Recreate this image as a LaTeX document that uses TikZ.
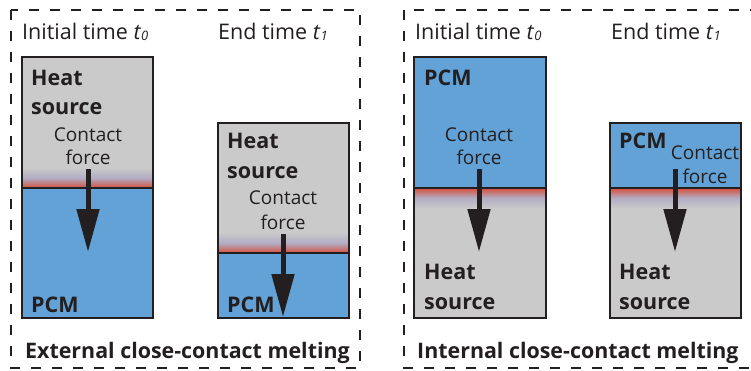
\documentclass[tikz,border=0pt]{standalone}
\usepackage{fontspec}
\setmainfont{Open Sans}
\usetikzlibrary{arrows.meta}
\definecolor{hsgray}{RGB}{201,202,201}
\definecolor{pcmblue}{RGB}{98,162,214}
\definecolor{hotred}{RGB}{213,80,60}
\definecolor{midlav}{RGB}{178,172,196}
\definecolor{edge}{RGB}{35,31,32}
\begin{document}
\begin{tikzpicture}[x=1pt,y=-1pt,
  txt/.style={inner sep=0pt,anchor=base west,text=edge},
  ttl/.style={txt,font=\fontsize{21.5}{24}\selectfont},
  lbl/.style={txt,font=\fontsize{21.5}{29}\selectfont\bfseries},
  cf/.style={inner sep=0pt,anchor=base,text=edge,font=\fontsize{19}{23}\selectfont},
  big/.style={txt,font=\fontsize{21.4}{24}\selectfont\bfseries},
  frame/.style={draw=edge,line width=1.8pt,dash pattern=on 10pt off 11pt},
  boxline/.style={draw=edge,line width=2pt},
  force/.style={edge,line width=5pt,-{Triangle[width=22pt,length=43pt]}}
]
\useasboundingbox (0,0) rectangle (751,370);
% dashed frames
\draw[frame] (11,10) rectangle (360,368);
\draw[frame] (404,10) rectangle (770,368);

% titles
\node[ttl] (t1) at (22,39) {Initial time \textit{t}\raisebox{-0.15ex}{\fontsize{13}{13}\selectfont\textit{0}}};
\node[ttl] (t2) at (218,39) {End time \textit{t}\raisebox{-0.15ex}{\fontsize{13}{13}\selectfont\textit{1}}};
\node[ttl] (t3) at (415,39) {Initial time \textit{t}\raisebox{-0.15ex}{\fontsize{13}{13}\selectfont\textit{0}}};
\node[ttl] (t4) at (611,39) {End time \textit{t}\raisebox{-0.15ex}{\fontsize{13}{13}\selectfont\textit{1}}};

% ---- box 1: external, initial
\fill[hsgray] (22,57) rectangle (153,188);
\fill[pcmblue] (22,188) rectangle (153,318);
\shade[top color=hsgray,bottom color=hotred,middle color=midlav] (22,168) rectangle (153,188);
\draw[boxline] (22,188) -- (153,188);
\draw[boxline] (22,57) rectangle (153,318);
% ---- box 2: external, end
\fill[hsgray] (218,123) rectangle (349,253);
\fill[pcmblue] (218,253) rectangle (349,318);
\shade[top color=hsgray,bottom color=hotred,middle color=midlav] (218,233) rectangle (349,253);
\draw[boxline] (218,253) -- (349,253);
\draw[boxline] (218,123) rectangle (349,318);
% ---- box 3: internal, initial
\fill[pcmblue] (414,57) rectangle (546,188);
\fill[hsgray] (414,188) rectangle (546,318);
\shade[top color=hotred,bottom color=hsgray,middle color=midlav] (414,188) rectangle (546,208);
\draw[boxline] (414,188) -- (546,188);
\draw[boxline] (414,57) rectangle (546,318);
% ---- box 4: internal, end
\fill[pcmblue] (610,123) rectangle (741,188);
\fill[hsgray] (610,188) rectangle (741,318);
\shade[top color=hotred,bottom color=hsgray,middle color=midlav] (610,188) rectangle (741,208);
\draw[boxline] (610,188) -- (741,188);
\draw[boxline] (610,123) rectangle (741,318);

% labels box 1
\node[lbl] (hs1) at (31,85) {Heat};
\node[lbl] (hs1b) at (31,114) {source};
\node[cf] (cf1) at (88,141) {Contact};
\node[cf] (cf1b) at (88,164) {force};
\node[lbl] (pcm1) at (31,312) {PCM};
% labels box 2
\node[lbl] (hs2) at (227,148) {Heat};
\node[lbl] (hs2b) at (227,178) {source};
\node[cf] (cf2) at (283,204) {Contact};
\node[cf] (cf2b) at (283,229) {force};
\node[lbl] (pcm2) at (227,312) {PCM};
% labels box 3
\node[lbl] (pcm3) at (424,85) {PCM};
\node[cf] (cf3) at (479,141) {Contact};
\node[cf] (cf3b) at (479,164) {force};
\node[lbl] (hs3) at (424,279) {Heat};
\node[lbl] (hs3b) at (424,309) {source};
% labels box 4
\node[lbl] (pcm4) at (619,148) {PCM};
\node[cf] (cf4) at (705,159) {Contact};
\node[cf] (cf4b) at (705,183) {force};
\node[lbl] (hs4) at (619,279) {Heat};
\node[lbl] (hs4b) at (619,309) {source};

% force arrows
\coordinate (a1s) at (88,169);  \coordinate (a1e) at (88,252);
\coordinate (a2s) at (283,234); \coordinate (a2e) at (283,317);
\coordinate (a3s) at (479,169); \coordinate (a3e) at (479,252);
\coordinate (a4s) at (675,169); \coordinate (a4e) at (675,252);
\draw[force] (a1s) -- (a1e);
\draw[force] (a2s) -- (a2e);
\draw[force] (a3s) -- (a3e);
\draw[force] (a4s) -- (a4e);

% bottom captions
\node[big] (c1) at (25,358) {External close-contact melting};
\node[big] (c2) at (417,358) {Internal close-contact melting};
\end{tikzpicture}
\end{document}
